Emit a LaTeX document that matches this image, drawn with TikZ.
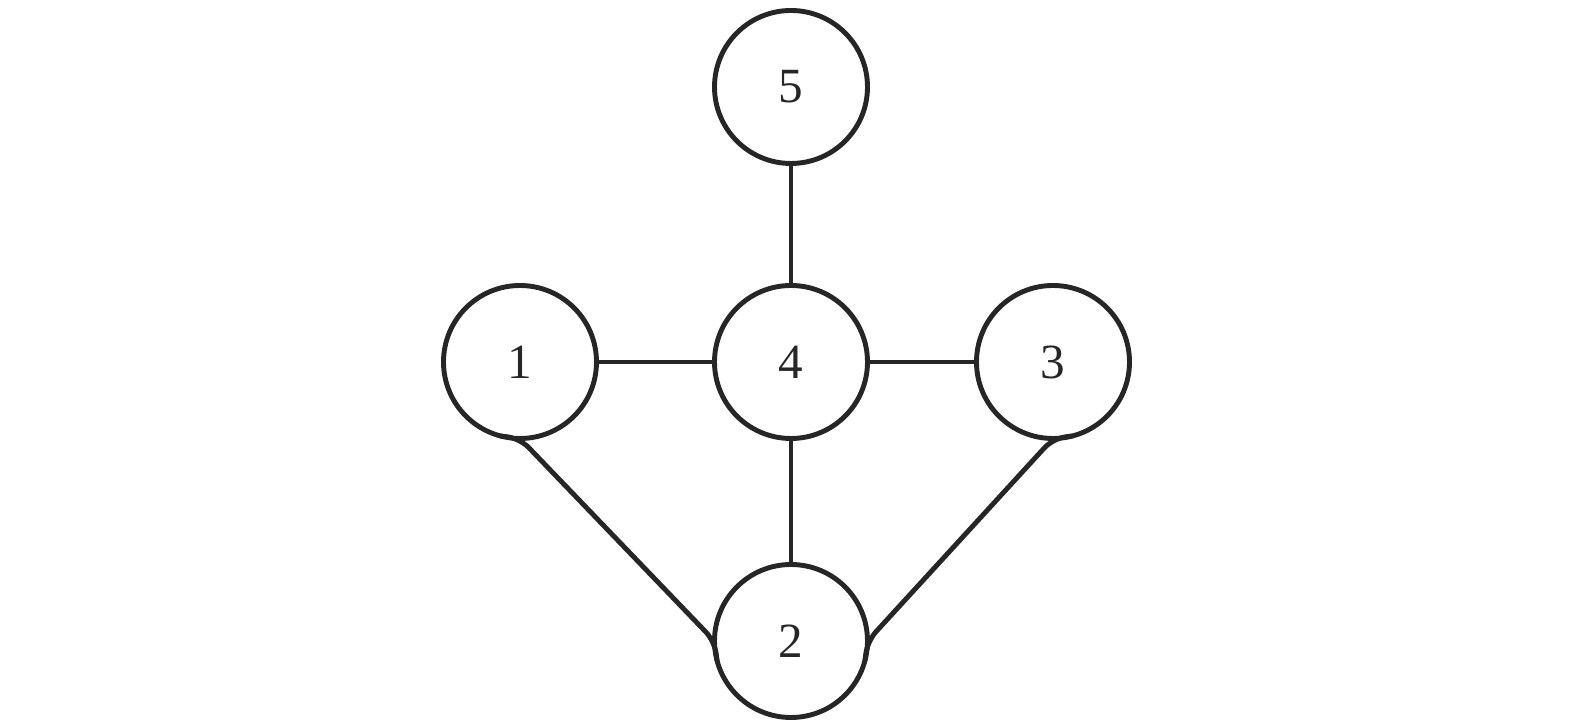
\documentclass[tikz,border=0pt]{standalone}
\usepackage{fontspec}
\setmainfont{Liberation Serif}
\usetikzlibrary{positioning, calc}
\tikzset{
  vertex/.style={draw, circle, line width=2.8pt, minimum size=3.06cm, inner sep=0pt, outer sep=0pt, color=black!85},
  link/.style={line width=2.8pt, black!85},
}
\begin{document}
\begin{tikzpicture}[font=\fontsize{28}{30}\selectfont]
  \useasboundingbox (-15.82,-7.32) rectangle (15.68,7.24);
  \node[vertex] (n4) at (0,0) {4};
  \node[vertex, left=2.36cm of n4] (n1) {1};
  \node[vertex, right=2.18cm of n4] (n3) {3};
  \node[vertex, above=2.44cm of n4] (n5) {5};
  \node[vertex, below=2.52cm of n4] (n2) {2};

  \draw[link] (n5) -- (n4);
  \draw[link] (n1) -- (n4);
  \draw[link] (n4) -- (n3);
  \draw[link] (n4) -- (n2);

  % diagonals into the bottom vertex, with small bends at the circles
  \draw[link, rounded corners=0.25cm] (n1.-105) -- (n1.south) -- (n2.west) -- (n2.195);
  \draw[link, rounded corners=0.25cm] (n3.-75) -- (n3.south) -- (n2.east) -- (n2.-15);
\end{tikzpicture}
\end{document}
